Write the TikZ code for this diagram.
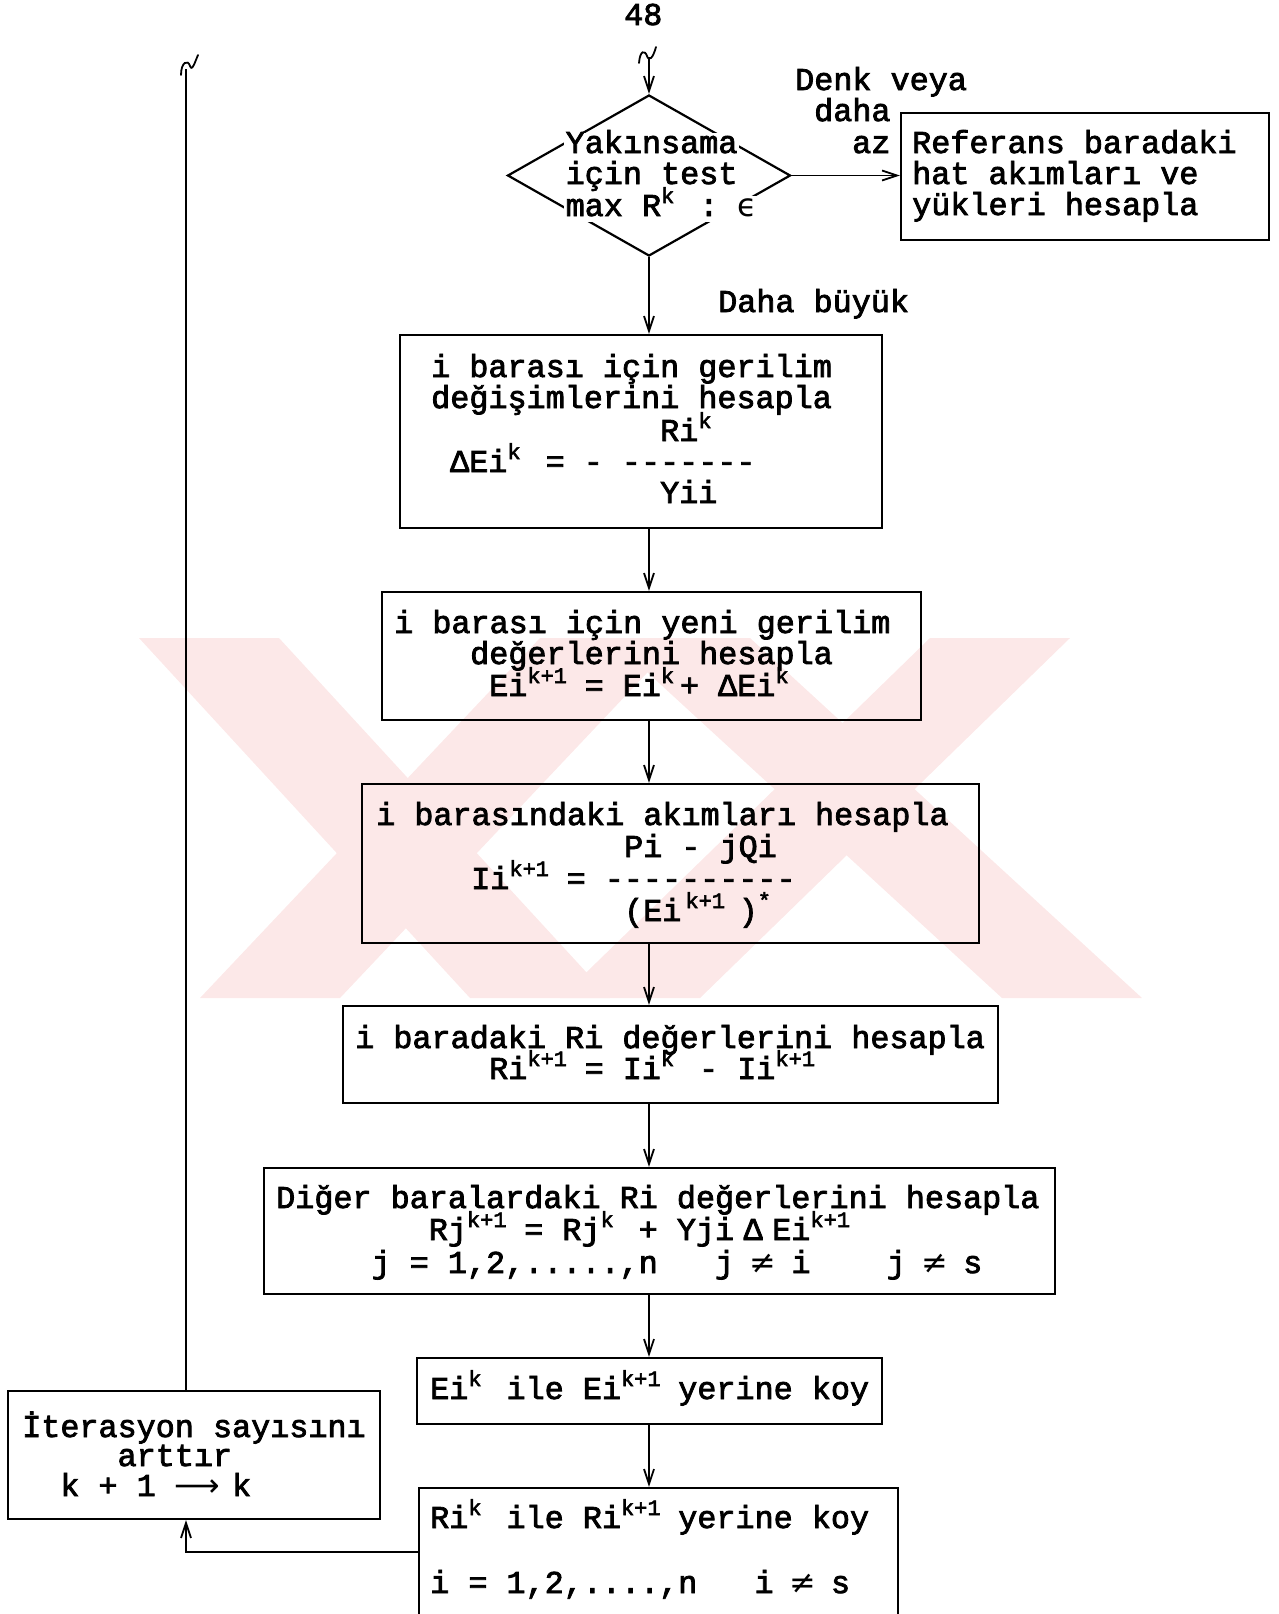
\documentclass[tikz,border=0pt]{standalone}
\usepackage{fontspec}
\setmainfont{Liberation Mono}[Ligatures=TeXOff,FakeBold=2.5]
\newfontfamily\sym{DejaVu Sans}
\usetikzlibrary{arrows.meta,shapes.geometric}
\definecolor{wm}{RGB}{252,232,232}
\newlength\cw \setlength\cw{19.08pt}
\newcommand\tw{\fontsize{31.8pt}{32pt}\selectfont}
\newcommand\hi[1]{\raisebox{13pt}[0pt][0pt]{\fontsize{22pt}{22pt}\selectfont #1}}
\newcommand\cell[2]{\makebox[#1\cw][l]{#2}}
\newcommand\nq{\makebox[\cw]{\sym ≠}}
\frenchspacing
\begin{document}
\begin{tikzpicture}[x=1pt,y=-1pt,
  box/.style={draw,rectangle,line width=2.2pt,inner sep=0pt},
  txt/.style={anchor=base west,inner sep=0pt,font=\tw,text height=20pt,text depth=6pt},
  dtxt/.style={txt,fill=white,inner sep=1.5pt,text height=19pt,text depth=4pt},
  arr/.style={line width=1.8pt,-{Straight Barb[length=15pt,width=10pt,line width=1.8pt]}},
  wire/.style={line width=1.8pt}]
\useasboundingbox (0,0) rectangle (1279,1614);

% faint background emblem
\fill[wm] (139,638) -- (279,638) -- (610,998) -- (470,998) -- cycle;
\fill[wm] (200,998) -- (340,998) -- (680,638) -- (540,638) -- cycle;
\fill[wm] (610,638) -- (750,638) -- (1142,998) -- (1002,998) -- cycle;
\fill[wm] (560,998) -- (700,998) -- (1070,638) -- (930,638) -- cycle;

% page number
\node[txt] (pg) at (624,25) {48};

% decision
\node[draw,diamond,line width=2.2pt,inner sep=0pt,minimum width=283pt,minimum height=161pt] (dia) at (649,175.5) {};
\node[dtxt] (d1) at (564,153) {Yakınsama};
\node[dtxt] (d2) at (564,184) {için test};
\node[dtxt] (d3) at (564,216) {max~R\cell{1}{\hi{k}}~:~{\sym ϵ}};

% process boxes
\node[box,minimum width=368pt,minimum height=127pt] (ref) at (1085,176.5) {};
\node[box,minimum width=482pt,minimum height=193pt] (b1) at (641,431.5) {};
\node[box,minimum width=539pt,minimum height=128pt] (b2) at (651.5,656) {};
\node[box,minimum width=617pt,minimum height=159pt] (b3) at (670.5,863.5) {};
\node[box,minimum width=655pt,minimum height=97pt] (b4) at (670.5,1054.5) {};
\node[box,minimum width=791pt,minimum height=126pt] (b5) at (659.5,1231) {};
\node[box,minimum width=465pt,minimum height=66pt] (b6) at (649.5,1391) {};
\node[box,minimum width=479pt,minimum height=152pt] (b7) at (658.5,1564) {};
\node[box,minimum width=372pt,minimum height=128pt] (it) at (194,1455) {};

% texts
\node[txt] (r1) at (912,153) {Referans baradaki};
\node[txt] (r2) at (912,184) {hat akımları ve};
\node[txt] (r3) at (912,215) {yükleri hesapla};

\node[txt] (l1) at (795,90) {Denk veya};
\node[txt] (l2) at (814,121) {daha};
\node[txt] (l3) at (852,153) {az};
\node[txt] (l4) at (718,312) {Daha büyük};

\node[txt] (a1) at (431,377) {i barası için gerilim};
\node[txt] (a2) at (431,408) {değişimlerini hesapla};
\node[txt] (a3) at (660,441) {Ri\hi{k}};
\node[txt] (a4) at (450,472) {ΔEi\cell{1}{\hi{k}}~=~-~-------};
\node[txt] (a5) at (660,503) {Yii};

\node[txt] (c1) at (394,633) {i barası için yeni gerilim};
\node[txt] (c2) at (470,664) {değerlerini hesapla};
\node[txt] (c3) at (489,696) {Ei\cell{3}{\hi{k+1}}=~Ei\cell{1}{\hi{k}}+~ΔEi\hi{k}};

\node[txt] (e1) at (376,825) {i barasındaki akımları hesapla};
\node[txt] (e2) at (624,857) {Pi~-~jQi};
\node[txt] (e3) at (471,889) {Ii\cell{3}{\hi{k+1}}=~----------};
\node[txt] (e4) at (624,921) {(Ei\cell{3}{\hspace{4pt}\hi{k+1}})\hi{*}};

\node[txt] (f1) at (355,1048) {i baradaki Ri değerlerini hesapla};
\node[txt] (f2) at (489,1079) {Ri\cell{3}{\hi{k+1}}=~Ii\cell{1}{\hi{k}}~-~Ii\hi{k+1}};

\node[txt] (g1) at (276,1208) {Diğer baralardaki Ri değerlerini hesapla};
\node[txt] (g2) at (428.6,1240) {Rj\cell{3}{\hi{k+1}}=~Rj\cell{1}{\hi{k}}~+~Yji\cell{2}{\hspace{0.5\cw}Δ}Ei\hi{k+1}};
\node[txt] (g3) at (371.4,1273) {j~=~1,2,.....,n~~~j~\nq~i~~~~j~\nq~s};

\node[txt] (h1) at (430,1399) {Ei\cell{1}{\hi{k}}~ile~Ei\cell{2}{\hi{k+1}}~yerine~koy};

\node[txt] (m1) at (430,1528) {Ri\cell{1}{\hi{k}}~ile~Ri\cell{2}{\hi{k+1}}~yerine~koy};
\node[txt] (m2) at (430,1593) {i~=~1,2,....,n~~~i~\nq~s};

\node[txt] (n1) at (22,1437) {İterasyon sayısını};
\node[txt] (n2) at (117.4,1466) {arttır};
\node[txt] (n3) at (60.2,1496) {k~+~1~\cell{3}{\sym ⟶}k};

% connectors
\coordinate (entry) at (649,57);
\draw[wire,line cap=round] (639,63) .. controls (640,50) and (645,50) .. (647,56) .. controls (649,62) and (653,58) .. (656,47);
\draw[arr] (entry) -- (dia.north);
\draw[arr] (dia.east) -- (dia.east -| ref.west);
\draw[arr] (dia.south) -- (dia.south |- b1.north);
\draw[arr] (b1.south -| dia.south) -- (b2.north -| dia.south);
\draw[arr] (b2.south -| dia.south) -- (b3.north -| dia.south);
\draw[arr] (b3.south -| dia.south) -- (b4.north -| dia.south);
\draw[arr] (b4.south -| dia.south) -- (b5.north -| dia.south);
\draw[arr] (b5.south -| dia.south) -- (b6.north -| dia.south);
\draw[arr] (b6.south -| dia.south) -- (b7.north -| dia.south);

\coordinate (retA) at (419,1552);
\coordinate (retB) at (186,1552);
\coordinate (topL) at (186,69);
\draw[arr] (retA) -- (retB) -- (retB |- it.south);
\draw[wire] (it.north -| retB) -- (topL);
\draw[wire,line cap=round] (181,75) .. controls (181,62) and (188,59) .. (190,66) .. controls (192,72) and (195,62) .. (198,55);
\end{tikzpicture}
\end{document}
